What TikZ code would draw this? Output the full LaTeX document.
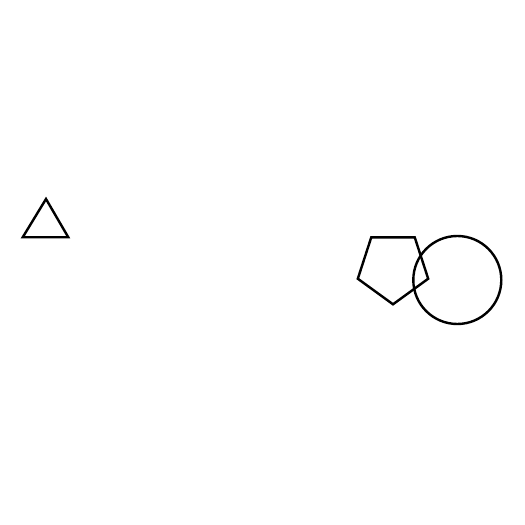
\documentclass[tikz,border=0pt]{standalone}
\usepackage{amsmath,amssymb}
\usepackage{xcolor}

\begin{document}
\begin{tikzpicture}[x = 1pt, y = 1pt, line width = 2.4pt]
  % Fix the page to the full square
  \useasboundingbox (0,0) rectangle (525,525);

  % Triangle on the left
  \draw (46,326)--(22.7,287.7)--(68.3,287.7)--cycle;      % Apex, base left, base right

  % Pentagon, pointing down
  \draw[shift = {(393,257.7)}] (270:37)--(342:37)--(54:37)--(126:37)--(198:37)--cycle;

  % Circle overlapping the pentagon
  \draw (457.3,245) circle (44);
\end{tikzpicture}
\end{document}
